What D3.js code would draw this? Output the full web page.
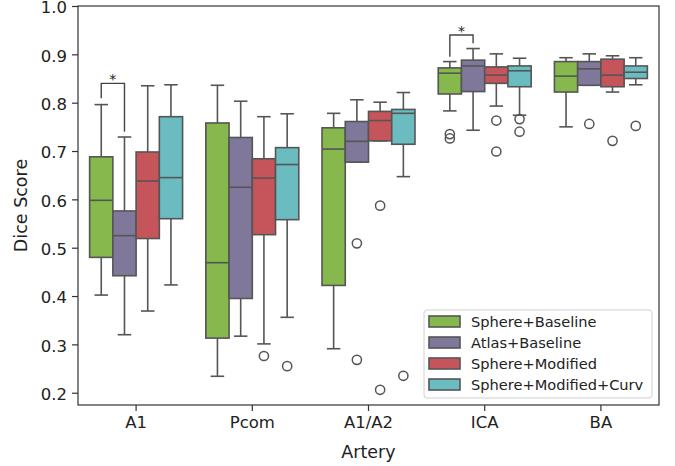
<!DOCTYPE html>
<html>
<head>
<meta charset="utf-8">
<script src="https://cdn.jsdelivr.net/npm/d3@7"></script>
<style>
  body { margin: 0; background: #fff; }
  text { font-family: "DejaVu Sans", sans-serif; fill: #222; }
</style>
</head>
<body>
<script>
// Categories and series names.
const arteries = ["A1", "Pcom", "A1/A2", "ICA", "BA"];
const methods = ["Sphere+Baseline", "Atlas+Baseline", "Sphere+Modified", "Sphere+Modified+Curv"];
const colors = ["#86b84d", "#7f789b", "#c5555a", "#6bbcc1"];

// Box stats per artery: [whisker low, Q1, median, Q3, whisker high]
const sphereBaseline = [
    [0.402, 0.480, 0.598, 0.688, 0.796],
    [0.234, 0.313, 0.469, 0.758, 0.836],
    [0.291, 0.422, 0.704, 0.748, 0.778],
    [0.783, 0.818, 0.861, 0.872, 0.885],
    [0.750, 0.822, 0.855, 0.885, 0.893]
];
const atlasBaseline = [
    [0.320, 0.442, 0.525, 0.576, 0.729],
    [0.317, 0.395, 0.625, 0.728, 0.803],
    [0.677, 0.677, 0.720, 0.761, 0.806],
    [0.743, 0.823, 0.876, 0.888, 0.912],
    [0.836, 0.836, 0.870, 0.885, 0.901]
];
const sphereModified = [
    [0.369, 0.519, 0.638, 0.698, 0.835],
    [0.301, 0.527, 0.644, 0.684, 0.771],
    [0.721, 0.721, 0.763, 0.782, 0.801],
    [0.793, 0.840, 0.857, 0.874, 0.901],
    [0.822, 0.833, 0.857, 0.890, 0.897]
];
const sphereModifiedCurv = [
    [0.423, 0.560, 0.645, 0.771, 0.837],
    [0.356, 0.558, 0.672, 0.707, 0.777],
    [0.647, 0.714, 0.778, 0.786, 0.821],
    [0.774, 0.833, 0.866, 0.876, 0.892],
    [0.837, 0.850, 0.863, 0.876, 0.893]
];

// Outliers per artery
const sphereBaselineOut = [[], [], [], [0.735, 0.726], []];
const atlasBaselineOut = [[], [], [0.509, 0.268], [], [0.756]];
const sphereModifiedOut = [[], [0.276], [0.587, 0.206], [0.763, 0.699], [0.721]];
const sphereModifiedCurvOut = [[], [0.255], [0.235], [0.766, 0.740], [0.752]];

const stats = [sphereBaseline, atlasBaseline, sphereModified, sphereModifiedCurv];
const outliers = [sphereBaselineOut, atlasBaselineOut, sphereModifiedOut, sphereModifiedCurvOut];

// Significance brackets: artery, two method indices, bracket top, leg ends
const brackets = [
    { artery: "A1", a: 0, b: 1, top: 0.840, endA: 0.809, endB: 0.740 },
    { artery: "ICA", a: 0, b: 1, top: 0.940, endA: 0.895, endB: 0.923 }
];

const yTicks = [0.2, 0.3, 0.4, 0.5, 0.6, 0.7, 0.8, 0.9, 1.0];

const width = 675;
const height = 466;
const margin = { top: 6, right: 16, bottom: 61, left: 78 };
const edge = "#555";

const svg = d3.select("body").append("svg")
    .attr("width", width)
    .attr("height", height);

const x = d3.scaleBand()
    .domain(arteries)
    .range([margin.left, width - margin.right]);

const bw = x.bandwidth();
const xInner = d3.scaleBand()
    .domain(d3.range(methods.length))
    .range([0.1 * bw, 0.9 * bw]);
const boxW = xInner.bandwidth();

const y = d3.scaleLinear()
    .domain([0.1746, 1.0])
    .range([height - margin.bottom, margin.top]);

// Boxes
const boxes = [];
stats.forEach((series, m) => {
    series.forEach((s, i) => {
        boxes.push({ m, artery: arteries[i], lo: s[0], q1: s[1], med: s[2], q3: s[3], hi: s[4], out: outliers[m][i] });
    });
});

const g = svg.append("g")
    .selectAll("g")
    .data(boxes)
    .join("g")
    .attr("transform", d => `translate(${x(d.artery) + xInner(d.m)},0)`);

const cx = boxW / 2;
const capW = boxW * 0.58;

// whiskers
g.append("line")
    .attr("x1", cx).attr("x2", cx)
    .attr("y1", d => y(d.hi)).attr("y2", d => y(d.q3));
g.append("line")
    .attr("x1", cx).attr("x2", cx)
    .attr("y1", d => y(d.q1)).attr("y2", d => y(d.lo));
g.append("line")
    .attr("x1", cx - capW / 2).attr("x2", cx + capW / 2)
    .attr("y1", d => y(d.hi)).attr("y2", d => y(d.hi));
g.append("line")
    .attr("x1", cx - capW / 2).attr("x2", cx + capW / 2)
    .attr("y1", d => y(d.lo)).attr("y2", d => y(d.lo));
g.selectAll("line")
    .attr("stroke", edge)
    .attr("stroke-width", 1.6);

g.append("rect")
    .attr("x", 0)
    .attr("width", boxW)
    .attr("y", d => y(d.q3))
    .attr("height", d => y(d.q1) - y(d.q3))
    .attr("fill", d => colors[d.m])
    .attr("stroke", edge)
    .attr("stroke-width", 1.6);

g.append("line")
    .attr("x1", 0).attr("x2", boxW)
    .attr("y1", d => y(d.med)).attr("y2", d => y(d.med))
    .attr("stroke", edge)
    .attr("stroke-width", 1.6);

g.selectAll("circle")
    .data(d => d.out)
    .join("circle")
    .attr("cx", cx)
    .attr("cy", v => y(v))
    .attr("r", 4.6)
    .attr("fill", "none")
    .attr("stroke", edge)
    .attr("stroke-width", 1.5);

// Significance brackets
const bx = (b, k) => x(b.artery) + xInner(k) + boxW / 2;
brackets.forEach(b => {
    svg.append("path")
        .attr("d", `M${bx(b, b.a)},${y(b.endA)}V${y(b.top)}H${bx(b, b.b)}V${y(b.endB)}`)
        .attr("fill", "none")
        .attr("stroke", "#444")
        .attr("stroke-width", 1.4);
    svg.append("text")
        .attr("x", (bx(b, b.a) + bx(b, b.b)) / 2)
        .attr("y", y(b.top) + 1)
        .attr("text-anchor", "middle")
        .attr("fill", "#333")
        .style("font-size", "14px")
        .text("*");
});

// Axes
const xAxis = svg.append("g")
    .attr("transform", `translate(0,${height - margin.bottom})`)
    .call(d3.axisBottom(x).tickSize(6).tickPadding(5));

const yAxis = svg.append("g")
    .attr("transform", `translate(${margin.left},0)`)
    .call(d3.axisLeft(y).tickValues(yTicks).tickFormat(d3.format(".1f")).tickSize(6).tickPadding(5));

[xAxis, yAxis].forEach(a => {
    a.select(".domain").remove();
    a.selectAll("line").attr("stroke", "#333").attr("stroke-width", 1.2);
    a.selectAll("text").style("font-size", "16.5px").attr("fill", "#222")
        .style("font-family", "DejaVu Sans, sans-serif");
});
yAxis.selectAll("text").attr("dy", "0.42em");

// Frame
svg.append("rect")
    .attr("x", margin.left)
    .attr("y", margin.top)
    .attr("width", width - margin.left - margin.right)
    .attr("height", height - margin.top - margin.bottom)
    .attr("fill", "none")
    .attr("stroke", "#333")
    .attr("stroke-width", 1.2);

// Axis labels
svg.append("text")
    .attr("x", (margin.left + width - margin.right) / 2)
    .attr("y", 458)
    .attr("text-anchor", "middle")
    .style("font-size", "17.5px")
    .text("Artery");

svg.append("text")
    .attr("transform", `translate(27,${(margin.top + height - margin.bottom) / 2}) rotate(-90)`)
    .attr("text-anchor", "middle")
    .style("font-size", "17.5px")
    .text("Dice Score");

// Legend
const legend = svg.append("g").attr("transform", "translate(424,310)");
legend.append("rect")
    .attr("width", 228)
    .attr("height", 88)
    .attr("rx", 3)
    .attr("fill", "#fff")
    .attr("fill-opacity", 0.8)
    .attr("stroke", "#d0d0d0");

const item = legend.selectAll("g")
    .data(methods)
    .join("g")
    .attr("transform", (d, i) => `translate(5,${6 + i * 21})`);

item.append("rect")
    .attr("width", 31)
    .attr("height", 11)
    .attr("fill", (d, i) => colors[i])
    .attr("stroke", edge)
    .attr("stroke-width", 1.6);

item.append("text")
    .attr("x", 42)
    .attr("y", 10.5)
    .style("font-size", "14.6px")
    .text(d => d);
</script>
</body>
</html>
